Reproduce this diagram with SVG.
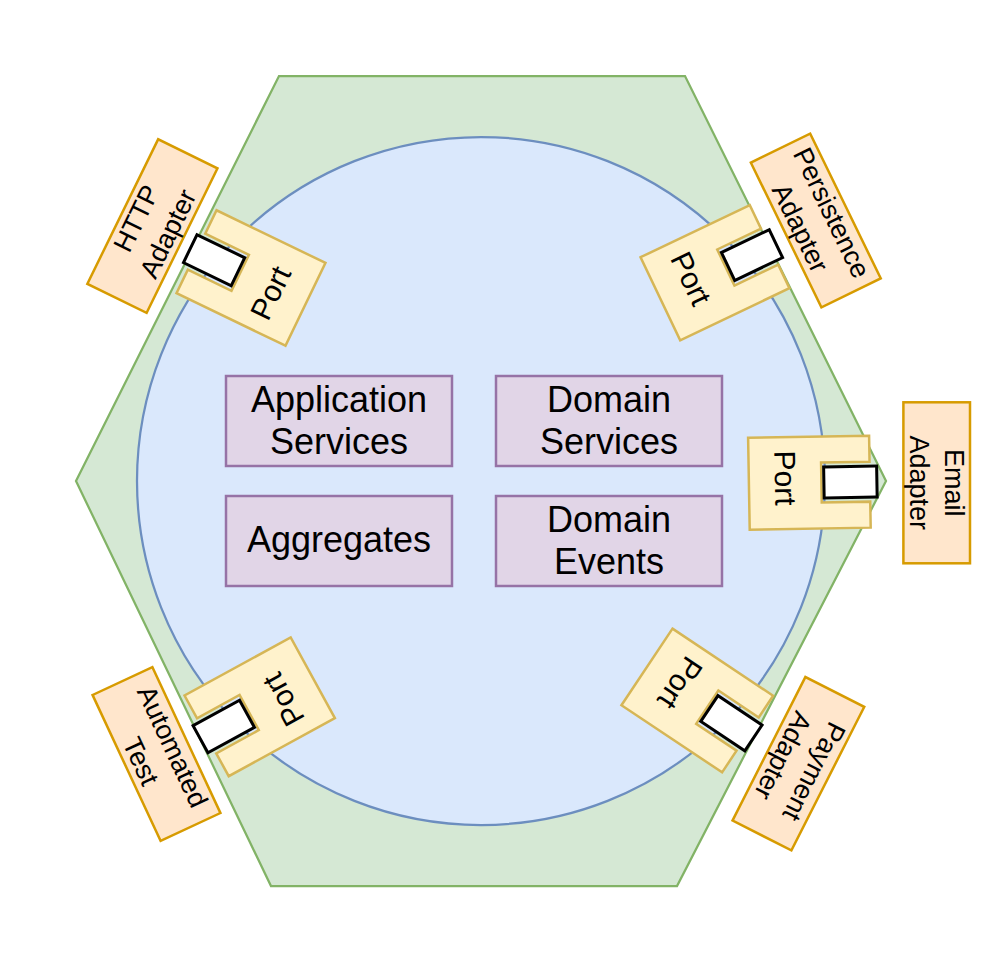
<svg xmlns="http://www.w3.org/2000/svg" width="984" height="963" viewBox="0 0 984 963">
<style>
.hex{fill:#d5e8d4;stroke:#82b366;stroke-width:2.25}
.core{fill:#dae8fc;stroke:#6c8ebf;stroke-width:2.25}
.box{fill:#e1d5e7;stroke:#9673a6;stroke-width:2.5}
.port{fill:#fff2cc;stroke:#d6b656;stroke-width:2.5}
.plug{fill:#ffffff;stroke:#000000;stroke-width:3}
.adapter{fill:#ffe6cc;stroke:#d79b00;stroke-width:2.5}
text{font-family:"Liberation Sans",Arial,sans-serif;fill:#000000;text-anchor:middle}
.big{font-size:36px}
.pt{font-size:30px;dominant-baseline:central}
.ad{font-size:27px;dominant-baseline:central}
</style>
<defs>
<path id="portShape" d="M-60.5,-46 H60.5 V-20 H12 V20 H60.5 V46 H-60.5 Z"/>
</defs>
<rect width="984" height="963" fill="#ffffff"/>
<g id="hexagon"><polygon class="hex" points="279,76 685,76 886,481 677,886 271,886 76,481"/></g>
<g id="core"><circle class="core" cx="481" cy="481" r="344"/></g>
<g id="application-services"><rect class="box" x="226" y="376" width="226" height="90"/><text class="big" x="339" y="412">Application</text><text class="big" x="339" y="453.5">Services</text></g>
<g id="domain-services"><rect class="box" x="496" y="376" width="226" height="90"/><text class="big" x="609" y="412">Domain</text><text class="big" x="609" y="453.5">Services</text></g>
<g id="aggregates"><rect class="box" x="226" y="496" width="226" height="90"/><text class="big" x="339" y="552">Aggregates</text></g>
<g id="domain-events"><rect class="box" x="496" y="496" width="226" height="90"/><text class="big" x="609" y="532">Domain</text><text class="big" x="609" y="573.5">Events</text></g>

<g id="port-http" transform="translate(251,278) rotate(205.8)"><use href="#portShape" class="port"/><rect class="plug" x="14.5" y="-15.5" width="53" height="31"/><text class="pt" transform="rotate(90)" x="-5" y="24">Port</text></g>
<g id="port-persistence" transform="translate(715,272.7) rotate(-25.5)"><use href="#portShape" class="port"/><rect class="plug" x="14.5" y="-15.5" width="53" height="31"/><text class="pt" transform="rotate(90)" x="-5" y="24">Port</text></g>
<g id="port-email" transform="translate(809.4,482.7) rotate(-1)"><use href="#portShape" class="port"/><rect class="plug" x="14.5" y="-15.5" width="53" height="31"/><text class="pt" transform="rotate(90)" x="-5" y="24">Port</text></g>
<g id="port-payment" transform="translate(697.3,700.5) rotate(33.7)"><use href="#portShape" class="port"/><rect class="plug" x="14.5" y="-15.5" width="53" height="31"/><text class="pt" transform="rotate(90)" x="-5" y="24">Port</text></g>
<g id="port-test" transform="translate(259.7,706.8) rotate(151.3)"><use href="#portShape" class="port"/><rect class="plug" x="14.5" y="-15.5" width="53" height="31"/><text class="pt" transform="rotate(90)" x="-5" y="24">Port</text></g>

<g id="http-adapter" transform="translate(152.4,226.1) rotate(-63.9)"><rect class="adapter" x="-80.5" y="-33" width="161" height="66"/><text class="ad" x="0" y="-17.5">HTTP</text><text class="ad" x="0" y="17.5">Adapter</text></g>
<g id="persistence-adapter" transform="translate(815.8,220.5) rotate(64)"><rect class="adapter" x="-80.5" y="-33" width="161" height="66"/><text class="ad" x="0" y="-17.5">Persistence</text><text class="ad" x="0" y="17.5">Adapter</text></g>
<g id="email-adapter" transform="translate(936.7,482.8) rotate(90)"><rect class="adapter" x="-80.5" y="-33.3" width="161" height="66.6"/><text class="ad" x="0" y="-17.5">Email</text><text class="ad" x="0" y="17.5">Adapter</text></g>
<g id="payment-adapter" transform="translate(798.4,763.7) rotate(116.9)"><rect class="adapter" x="-80.5" y="-33" width="161" height="66"/><text class="ad" x="0" y="-17.5">Payment</text><text class="ad" x="0" y="17.5">Adapter</text></g>
<g id="automated-test" transform="translate(156.5,754) rotate(65)"><rect class="adapter" x="-80.5" y="-33" width="161" height="66"/><text class="ad" x="0" y="-17.5">Automated</text><text class="ad" x="0" y="17.5">Test</text></g>
<g id="connectors"/>
</svg>
